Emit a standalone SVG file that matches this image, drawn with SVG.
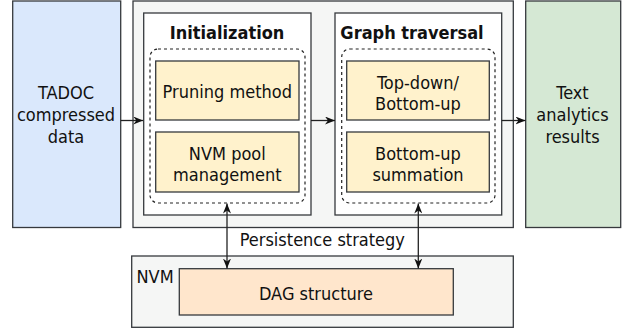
<svg xmlns="http://www.w3.org/2000/svg" width="623" height="331" viewBox="0 0 623 331">
<style>
text{font-family:"DejaVu Sans Condensed","DejaVu Sans",Verdana,sans-serif;font-stretch:condensed;font-size:18px;fill:#111;text-anchor:middle}
.b{font-weight:bold}
.box{stroke:#36393d;stroke-width:1.3}
.dash{fill:none;stroke:#222;stroke-width:1.2;stroke-dasharray:3 3}
.con{fill:none;stroke:#222;stroke-width:1.3}
</style>
<defs>
<marker id="ah" viewBox="0 0 10 8" refX="10" refY="4" markerWidth="10" markerHeight="8" markerUnits="userSpaceOnUse" orient="auto-start-reverse">
<path d="M0,0 L10,4 L0,8 L3,4 z" fill="#111"/>
</marker>
</defs>
<rect width="623" height="331" fill="#fff"/>
<g id="tadoc">
<rect class="box" x="12.7" y="1" width="108" height="226.5" fill="#dae8fc"/>
<text x="66" y="99">TADOC</text>
<text x="66" y="121">compressed</text>
<text x="66" y="143">data</text>
</g>
<g id="engine">
<rect class="box" x="133" y="1" width="380.3" height="226.5" fill="#f5f6f5"/>
</g>
<g id="initialization">
<rect class="box" x="143.7" y="13" width="167.3" height="202" fill="#fff"/>
<text class="b" x="227" y="39">Initialization</text>
<rect class="dash" x="150" y="49" width="155" height="154" rx="8"/>
</g>
<g id="pruning">
<rect class="box" x="155.7" y="61" width="143.3" height="59" fill="#fff2cc"/>
<text x="227.3" y="97.5">Pruning method</text>
</g>
<g id="nvmpool">
<rect class="box" x="155.7" y="132" width="143.3" height="60" fill="#fff2cc"/>
<text x="227.3" y="159.5">NVM pool</text>
<text x="227.3" y="181">management</text>
</g>
<g id="traversal">
<rect class="box" x="335" y="13" width="166.7" height="202" fill="#fff"/>
<text class="b" x="412" y="39">Graph traversal</text>
<rect class="dash" x="341.7" y="49" width="153.3" height="154" rx="8"/>
</g>
<g id="topdown">
<rect class="box" x="346.7" y="61" width="142.6" height="59" fill="#fff2cc"/>
<text x="418" y="88.5">Top-down/</text>
<text x="418" y="110">Bottom-up</text>
</g>
<g id="summation">
<rect class="box" x="346.7" y="132" width="142.6" height="60" fill="#fff2cc"/>
<text x="418" y="159.5">Bottom-up</text>
<text x="418" y="181">summation</text>
</g>
<g id="results">
<rect class="box" x="525.7" y="1" width="95" height="226.5" fill="#d5e8d4"/>
<text x="572.5" y="99">Text</text>
<text x="572.5" y="121">analytics</text>
<text x="572.5" y="143">results</text>
</g>
<g id="nvm">
<rect class="box" x="131.7" y="256" width="381.6" height="71.3" fill="#f5f6f5"/>
<text x="136.5" y="283.3" style="text-anchor:start">NVM</text>
</g>
<g id="dag">
<rect class="box" x="179.3" y="268.7" width="274" height="46.3" fill="#ffe6cc"/>
<text x="316" y="300">DAG structure</text>
</g>
<g id="connectors">
<path class="con" d="M120.7,120.5 H143.3" marker-end="url(#ah)"/>
<path class="con" d="M311,120.5 H335" marker-end="url(#ah)"/>
<path class="con" d="M501.7,120.5 H525.5" marker-end="url(#ah)"/>
<path class="con" d="M227,203.5 V268.5" marker-start="url(#ah)" marker-end="url(#ah)"/>
<path class="con" d="M418.3,203.5 V268.5" marker-start="url(#ah)" marker-end="url(#ah)"/>
<text x="322.3" y="246">Persistence strategy</text>
</g>
</svg>
